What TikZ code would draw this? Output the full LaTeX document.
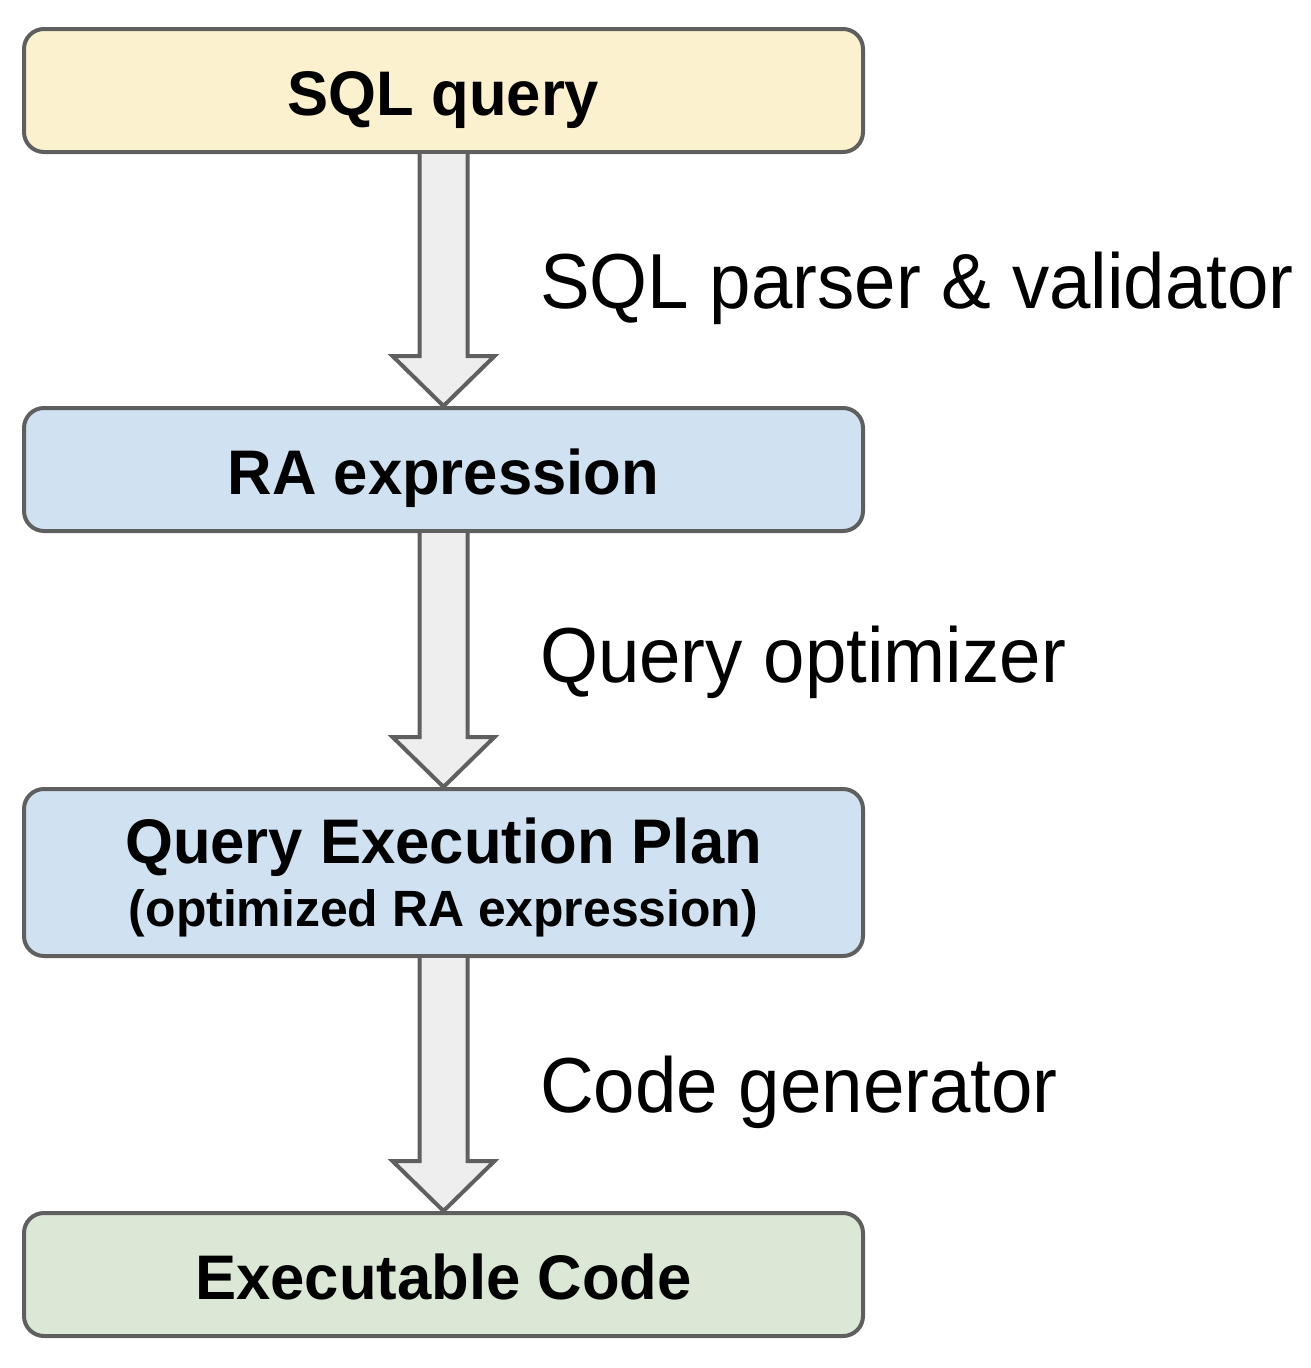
\documentclass[tikz,border=0pt]{standalone}
\usepackage{fontspec}
\setmainfont{Liberation Sans}
\newfontfamily\stepfont[FakeStretch=0.955]{Liberation Sans}
\newfontfamily\boxfont[FakeStretch=0.978]{Liberation Sans}
\usetikzlibrary{positioning}

\definecolor{edgegray}{HTML}{5F5F5F}
\definecolor{queryyellow}{HTML}{FCF1CF}
\definecolor{rablue}{HTML}{D0E1F1}
\definecolor{codegreen}{HTML}{DBE8D6}
\definecolor{arrowgray}{HTML}{EEEEEE}

\tikzset{
  stagebox/.style={draw=edgegray, line width=4pt, rounded corners=20pt,
    minimum width=839pt, minimum height=123pt, align=center,
    text height=49pt, text depth=0pt,
    font=\boxfont\fontsize{63}{70}\selectfont\bfseries},
  fatarrow/.style={draw=edgegray, fill=arrowgray, line width=4pt, line join=miter},
  steplabel/.style={anchor=base west, inner sep=0pt,
    font=\stepfont\fontsize{78}{86}\selectfont}
}

% big hollow arrow from box #1 down to box #2
\newcommand{\fatarrow}[2]{%
  \filldraw[fatarrow] ([xshift=-24pt]#1.south) -- ([xshift=-24pt,yshift=50pt]#2.north)
    -- ([xshift=-51pt,yshift=50pt]#2.north) -- (#2.north)
    -- ([xshift=51pt,yshift=50pt]#2.north) -- ([xshift=24pt,yshift=50pt]#2.north)
    -- ([xshift=24pt]#1.south);
}

\begin{document}
\begin{tikzpicture}[x=1pt, y=-1pt]
\useasboundingbox (0,0) rectangle (1310,1368);

% Stages
\node[stagebox, fill=queryyellow] (sql) at (443.5,90.5) {SQL query};
\node[stagebox, fill=rablue] (ra) at (443.5,469.5) {RA expression};
\node[stagebox, fill=rablue, minimum height=167pt, text height=, text depth=0pt] (plan) at (443.5,872.5)
  {Query Execution Plan\\[-7pt]{\fontsize{51}{56}\selectfont (optimized RA expression)}};
\node[stagebox, fill=codegreen] (code) at (443.5,1274.5) {Executable Code};

% Arrows between stages
\fatarrow{sql}{ra}
\fatarrow{ra}{plan}
\fatarrow{plan}{code}

% Step labels
\node[steplabel] (parser) at (540,308) {SQL parser \& validator};
\node[steplabel] (optimizer) at (540,682) {Query optimizer};
\node[steplabel] (generator) at (540,1112) {Code generator};

\end{tikzpicture}
\end{document}
